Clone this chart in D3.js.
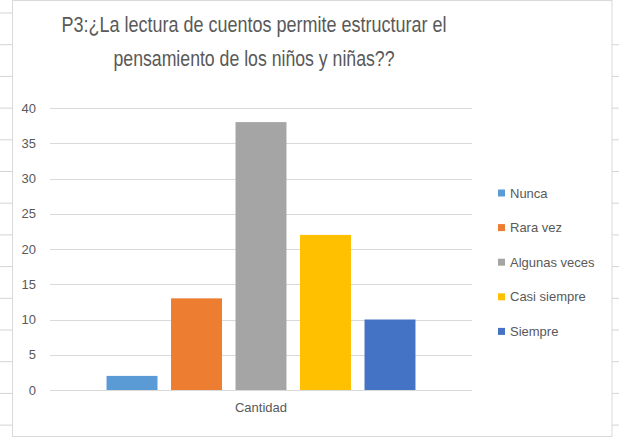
<!DOCTYPE html>
<html>
<head>
<meta charset="utf-8">
<script src="https://cdn.jsdelivr.net/npm/d3@7"></script>
<style>
  html, body { margin: 0; padding: 0; background: #fff; }
  text { font-family: "Liberation Sans", Arial, sans-serif; }
</style>
</head>
<body>
<div id="chart"></div>
<script>
const WIDTH = 619;
const HEIGHT = 438;

// chart data
const TITLE_LINES = [
  "P3:¿La lectura de cuentos permite estructurar el",
  "pensamiento de los niños y niñas??",
];
const CATEGORIES = ["Cantidad"];
const SERIES = ["Nunca", "Rara vez", "Algunas veces", "Casi siempre", "Siempre"];
const VALUES = [2, 13, 38, 22, 10];
const COLORS = ["#5b9bd5", "#ed7d31", "#a5a5a5", "#ffc000", "#4472c4"];
const Y_TICKS = [0, 5, 10, 15, 20, 25, 30, 35, 40];

const PLOT = { left: 50, right: 472, top: 108, bottom: 390 };

const svg = d3
  .select("#chart")
  .append("svg")
  .attr("width", WIDTH)
  .attr("height", HEIGHT);

// spreadsheet cells peeking out around the chart
const cellRows = d3.range(13, HEIGHT, 31.7);
svg
  .append("g")
  .selectAll("line")
  .data(cellRows)
  .join("line")
  .attr("x1", 0)
  .attr("x2", 12)
  .attr("y1", (d) => d)
  .attr("y2", (d) => d)
  .attr("stroke", "#d4d4d4");
svg
  .append("g")
  .selectAll("line")
  .data(cellRows.slice(1))
  .join("line")
  .attr("x1", 612)
  .attr("x2", WIDTH)
  .attr("y1", (d) => d)
  .attr("y2", (d) => d)
  .attr("stroke", "#d4d4d4");

// chart frame
svg
  .append("rect")
  .attr("x", 12.5)
  .attr("y", 0.5)
  .attr("width", 599.5)
  .attr("height", 436)
  .attr("fill", "#fff")
  .attr("stroke", "#d9d9d9");

// title
svg
  .append("g")
  .selectAll("text")
  .data(TITLE_LINES)
  .join("text")
  .attr("x", 254)
  .attr("y", (d, i) => 32 + i * 34)
  .attr("text-anchor", "middle")
  .attr("font-size", "22px")
  .attr("fill", "#595959")
  .attr("textLength", (d, i) => (i === 0 ? 385 : 281))
  .attr("lengthAdjust", "spacingAndGlyphs")
  .text((d) => d);

const yScale = d3
  .scaleLinear()
  .domain([0, 40])
  .range([PLOT.bottom, PLOT.top]);

const x0 = d3
  .scaleBand()
  .domain(CATEGORIES)
  .range([PLOT.left, PLOT.right])
  .paddingInner(0)
  .paddingOuter(0.183);

const x1 = d3
  .scaleBand()
  .domain(SERIES)
  .range([0, x0.bandwidth()])
  .paddingInner(0.21)
  .paddingOuter(0);

// gridlines
svg
  .append("g")
  .selectAll("line")
  .data(Y_TICKS)
  .join("line")
  .attr("x1", PLOT.left)
  .attr("x2", PLOT.right)
  .attr("y1", (d) => Math.round(yScale(d)) + 0.5)
  .attr("y2", (d) => Math.round(yScale(d)) + 0.5)
  .attr("stroke", "#d9d9d9")
  .attr("stroke-width", 1);

// y axis labels
const yAxis = svg
  .append("g")
  .attr("transform", `translate(${PLOT.left - 9}, 0)`)
  .call(d3.axisLeft(yScale).tickValues(Y_TICKS).tickSize(0).tickPadding(5));
yAxis.select(".domain").remove();
yAxis
  .selectAll("text")
  .attr("font-size", "13px")
  .attr("font-family", "'Liberation Sans', Arial, sans-serif")
  .attr("fill", "#595959");

// bars
svg
  .append("g")
  .selectAll("g")
  .data(CATEGORIES)
  .join("g")
  .attr("transform", (d) => `translate(${x0(d)}, 0)`)
  .selectAll("rect")
  .data(SERIES.map((s, i) => ({ name: s, value: VALUES[i], color: COLORS[i] })))
  .join("rect")
  .attr("x", (d) => x1(d.name))
  .attr("y", (d) => yScale(d.value))
  .attr("width", x1.bandwidth())
  .attr("height", (d) => yScale(0) - yScale(d.value))
  .attr("fill", (d) => d.color);

// category label
const xAxis = svg
  .append("g")
  .attr("transform", `translate(0, ${PLOT.bottom})`)
  .call(d3.axisBottom(x0).tickSize(0).tickPadding(13));
xAxis.select(".domain").remove();
xAxis
  .selectAll("text")
  .attr("font-size", "13px")
  .attr("font-family", "'Liberation Sans', Arial, sans-serif")
  .attr("fill", "#595959");

// legend
const legend = svg
  .append("g")
  .selectAll("g")
  .data(SERIES)
  .join("g")
  .attr("transform", (d, i) => `translate(498, ${193 + i * 34.6})`);
legend
  .append("rect")
  .attr("x", 0)
  .attr("y", -3.5)
  .attr("width", 7)
  .attr("height", 7)
  .attr("fill", (d, i) => COLORS[i]);
legend
  .append("text")
  .attr("x", 12)
  .attr("y", 4.5)
  .attr("font-size", "13px")
  .attr("fill", "#595959")
  .text((d) => d);
</script>
</body>
</html>
